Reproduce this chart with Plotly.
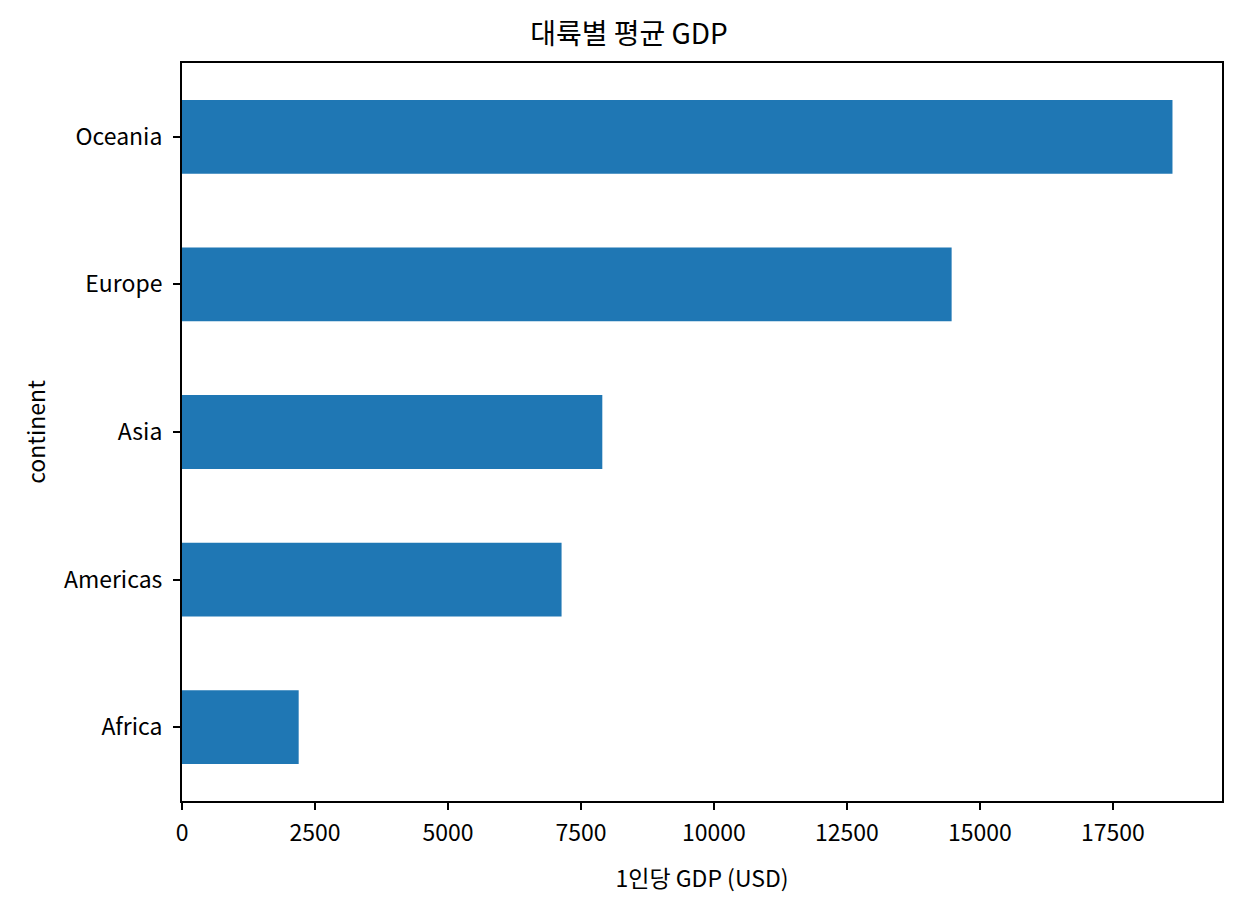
import plotly.graph_objects as go

# data
continents = ["Africa", "Americas", "Asia", "Europe", "Oceania"]
gdp_mean = [2193.75, 7136.11, 7902.15, 14469.48, 18621.61]
x_ticks = [0, 2500, 5000, 7500, 10000, 12500, 15000, 17500]

font = "Noto Sans CJK KR"

fig = go.Figure(go.Bar(
    x=gdp_mean, y=continents, orientation="h",
    marker=dict(color="#1f77b4", line=dict(width=0)),
    width=0.5,
))

axis_common = dict(
    showline=True, linecolor="black", linewidth=2, mirror=True,
    ticks="outside", ticklen=7, tickwidth=2, tickcolor="black",
    showgrid=False, zeroline=False,
    tickfont=dict(family=font, size=23, color="black"),
)

fig.update_layout(
    width=1242, height=915,
    margin=dict(l=174, r=28, t=55, b=122),
    plot_bgcolor="white", paper_bgcolor="white",
    title=dict(text="대륙별 평균 GDP", x=0.5, xanchor="center", y=0.971, yanchor="middle",
               font=dict(family=font, size=28, color="black")),
    xaxis=dict(axis_common, range=[0, 18621.61 * 1.05], tickvals=x_ticks, tickformat="d",
               ticklabelstandoff=3,
               title=dict(text="1인당 GDP (USD)", font=dict(family=font, size=23, color="black"), standoff=24)),
    yaxis=dict(axis_common, range=[-0.5, 4.5], categoryorder="array", categoryarray=continents,
               ticklabelstandoff=6,
               title=dict(text="continent", font=dict(family=font, size=23, color="black"), standoff=12)),
    showlegend=False,
)

fig.write_html("out.html")
